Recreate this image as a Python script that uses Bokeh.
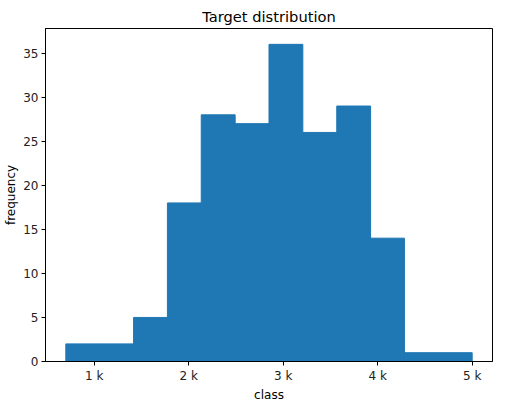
from bokeh.plotting import figure
from bokeh.embed import file_html
from bokeh.resources import INLINE
from bokeh.models import Range1d, FixedTicker, ColumnDataSource

# data
bin_edges = [700, 1058, 1417, 1775, 2133, 2492, 2850, 3208, 3567, 3925, 4283, 4642, 5000]
counts = [2, 2, 5, 18, 28, 27, 36, 26, 29, 14, 1, 1]
x_ticks = [1000, 2000, 3000, 4000, 5000]
x_tick_labels = ["1 k", "2 k", "3 k", "4 k", "5 k"]
y_ticks = [0, 5, 10, 15, 20, 25, 30, 35]

FONT = "DejaVu Sans"

span = bin_edges[-1] - bin_edges[0]
p = figure(frame_width=447, frame_height=333, output_backend="svg", toolbar_location=None,
           x_range=Range1d(bin_edges[0] - 0.05 * span, bin_edges[-1] + 0.05 * span),
           y_range=Range1d(0, max(counts) * 1.05),
           min_border_left=45, min_border_right=4, min_border_top=28, min_border_bottom=30)

src = ColumnDataSource(dict(left=bin_edges[:-1], right=bin_edges[1:], top=counts))
p.quad(left="left", right="right", top="top", bottom=0, source=src,
       fill_color="#1f77b4", line_color="#1f77b4", line_width=1)

p.title.text = "Target distribution"
p.title.align = "center"
p.title.text_font = FONT
p.title.text_font_style = "normal"
p.title.text_font_size = "11pt"
p.title.text_color = "#000000"
p.title.standoff = 7

p.xgrid.visible = False
p.ygrid.visible = False
p.outline_line_color = "black"
p.outline_line_alpha = 1
p.outline_line_width = 1

p.xaxis.ticker = FixedTicker(ticks=x_ticks)
p.xaxis.major_label_overrides = {t: l for t, l in zip(x_ticks, x_tick_labels)}
p.yaxis.ticker = FixedTicker(ticks=y_ticks)
p.xaxis.axis_label = "class"
p.yaxis.axis_label = "frequency"

for ax in (p.xaxis, p.yaxis):
    ax.axis_label_text_font = FONT
    ax.axis_label_text_font_style = "normal"
    ax.axis_label_text_font_size = "9pt"
    ax.axis_label_text_color = "#000000"
    ax.axis_label_standoff = 2
    ax.major_label_text_font = FONT
    ax.major_label_text_font_size = "9pt"
    ax.major_label_text_color = "#222222"
    ax.major_label_standoff = 3
    ax.major_tick_in = 0
    ax.major_tick_out = 4
    ax.minor_tick_line_color = None
    ax.axis_line_color = "black"
    ax.major_tick_line_color = "black"

open("out.html", "w").write(file_html(p, INLINE))
